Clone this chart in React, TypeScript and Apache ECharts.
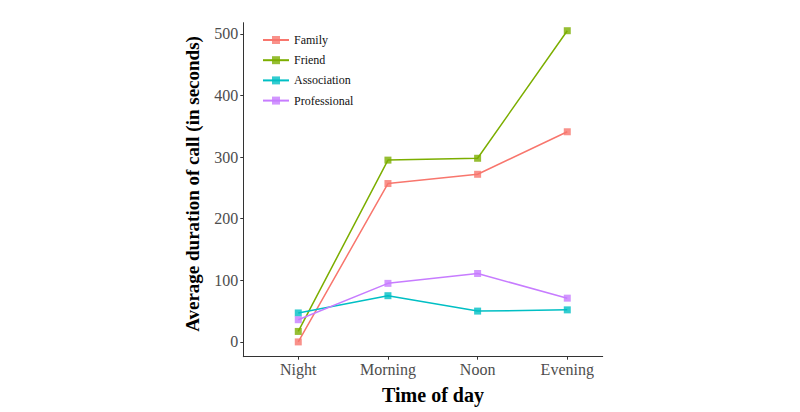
import React, { useEffect, useRef } from "react";
import * as echarts from "echarts";

const categories = ["Night", "Morning", "Noon", "Evening"];
const family = [0, 257, 272, 341];
const friend = [17, 295, 298, 505];
const association = [47, 75, 50, 52];
const professional = [36, 95, 111, 71];
const yTicks = [0, 100, 200, 300, 400, 500];
const xTitle = "Time of day";
const yTitle = "Average duration of call (in seconds)";

const seriesDefs = [
  { name: "Family", data: family, color: "#F8766D" },
  { name: "Friend", data: friend, color: "#7CAE00" },
  { name: "Association", data: association, color: "#00BFC4" },
  { name: "Professional", data: professional, color: "#C77CFF" },
];

const FONT = "'Liberation Serif', 'DejaVu Serif', serif";

export default function App() {
  const ref = useRef<HTMLDivElement>(null);
  useEffect(() => {
    document.body.style.margin = "0";
    if (!ref.current) return;
    const chart = echarts.init(ref.current, undefined, { renderer: "svg" });
    chart.setOption({
      animation: false,
      backgroundColor: "#ffffff",
      textStyle: { fontFamily: FONT },
      grid: { left: 243.3, top: 22.7, right: 197.3, bottom: 55.3, containLabel: false },
      legend: {
        orient: "vertical",
        left: 257,
        top: 29,
        itemWidth: 26,
        itemHeight: 10,
        itemGap: 8.2,
        textStyle: { fontFamily: FONT, fontSize: 12, color: "#111" },
        data: seriesDefs.map((s) => s.name),
      },
      graphic: [
        {
          type: "text",
          x: 433,
          y: 395,
          style: {
            text: xTitle,
            fontFamily: FONT,
            fontSize: 20,
            fontWeight: "bold",
            fill: "#000",
            align: "center",
            verticalAlign: "middle",
          },
        },
        {
          type: "text",
          x: 192,
          y: 184,
          rotation: Math.PI / 2,
          style: {
            text: yTitle,
            fontFamily: FONT,
            fontSize: 19,
            fontWeight: "bold",
            fill: "#000",
            align: "center",
            verticalAlign: "middle",
          },
        },
      ],
      xAxis: {
        type: "value",
        min: 0.387,
        max: 4.395,
        axisLine: { show: true, onZero: false, lineStyle: { color: "#333", width: 1 } },
        axisTick: { show: true, length: 3, customValues: [1, 2, 3, 4], lineStyle: { color: "#333" } },
        axisLabel: {
          customValues: [1, 2, 3, 4],
          formatter: (v: number) => categories[Math.round(v) - 1] ?? "",
          fontFamily: FONT,
          fontSize: 16,
          color: "#4D4D4D",
          margin: 5,
        },
        splitLine: { show: false },
      },
      yAxis: {
        type: "value",
        min: -24,
        max: 518,
        axisLine: { show: true, onZero: false, lineStyle: { color: "#333", width: 1 } },
        axisTick: { show: true, length: 3, customValues: yTicks, lineStyle: { color: "#333" } },
        axisLabel: {
          customValues: yTicks,
          fontFamily: FONT,
          fontSize: 16,
          color: "#4D4D4D",
          margin: 5,
        },
        splitLine: { show: false },
      },
      series: seriesDefs.map((s) => ({
        name: s.name,
        type: "line",
        data: s.data.map((v, i) => [i + 1, v]),
        symbol: "rect",
        symbolSize: 7,
        showSymbol: true,
        lineStyle: { color: s.color, width: 1.5 },
        itemStyle: { color: s.color, opacity: 0.8 },
      })),
    });
    return () => chart.dispose();
  }, []);
  return <div ref={ref} style={{ width: 800, height: 412 }} />;
}
